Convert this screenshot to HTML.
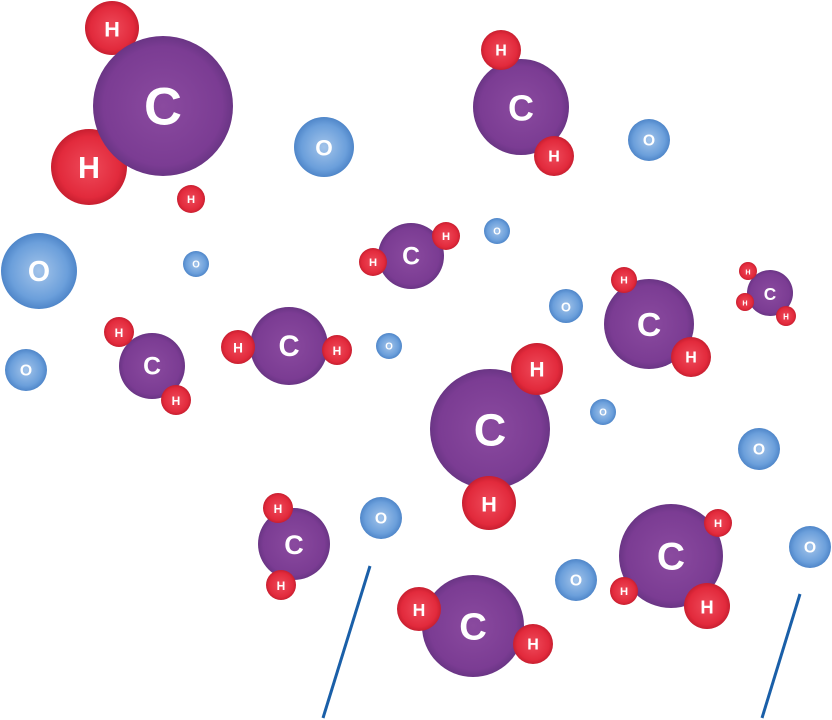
<!DOCTYPE html>
<html><head><meta charset="utf-8"><style>
html,body{margin:0;padding:0;background:#fff;}
svg{display:block;}
text{font-family:"Liberation Sans",sans-serif;fill:#fff;text-anchor:middle;dominant-baseline:central;font-weight:bold;}
</style></head><body>
<svg width="832" height="720" viewBox="0 0 832 720" xmlns="http://www.w3.org/2000/svg">
<defs>
<radialGradient id="gc" cx="50%" cy="50%" r="50%"><stop offset="0" stop-color="#8a4a9f"/><stop offset="0.85" stop-color="#7b3c93"/><stop offset="1" stop-color="#6a3585"/></radialGradient>
<radialGradient id="gh" cx="50%" cy="50%" r="50%"><stop offset="0" stop-color="#ee4a5a"/><stop offset="0.8" stop-color="#e22a3c"/><stop offset="1" stop-color="#c81f30"/></radialGradient>
<radialGradient id="go" cx="50%" cy="50%" r="50%"><stop offset="0" stop-color="#a3c4ea"/><stop offset="0.75" stop-color="#6b9fdb"/><stop offset="1" stop-color="#4f86c9"/></radialGradient>
</defs>
<g id="a"></g>
<line x1="370" y1="566" x2="323" y2="718" stroke="#1a5fa8" stroke-width="3"/>
<line x1="800" y1="594" x2="762" y2="718" stroke="#1a5fa8" stroke-width="3"/>
<script>
var L=[
['H',112,28,27],['H',89,167,38],['C',163,106,70],['H',191,199,14],
['O',324,147,30],['O',39,271,38],['O',196,264,13],['O',26,370,21],
['C',152,366,33],['H',119,332,15],['H',176,400,15],
['C',289,346,39],['H',238,347,17],['H',337,350,15],
['O',389,346,13],
['C',411,256,33],['H',373,262,14],['H',446,236,14],
['O',497,231,13],
['C',521,107,48],['H',501,50,20],['H',554,156,20],
['O',649,140,21],['O',566,306,17],
['C',649,324,45],['H',624,280,13],['H',691,357,20],
['C',770,293,23],['H',748,271,9],['H',745,302,9],['H',786,316,10],
['C',490,429,60],['H',537,369,26],['H',489,503,27],
['O',603,412,13],['O',759,449,21],
['C',294,544,36],['H',278,508,15],['H',281,585,15],
['O',381,518,21],
['C',473,626,51],['H',419,609,22],['H',533,644,20],
['O',576,580,21],
['C',671,556,52],['H',718,523,14],['H',624,591,14],['H',707,606,23],
['O',810,547,21]];
var ns="http://www.w3.org/2000/svg",g=document.getElementById('a');
L.forEach(function(e){var c=document.createElementNS(ns,'circle');c.setAttribute('cx',e[1]);c.setAttribute('cy',e[2]);c.setAttribute('r',e[3]);c.setAttribute('fill','url(#g'+e[0].toLowerCase()+')');g.appendChild(c);
var t=document.createElementNS(ns,'text');t.setAttribute('x',e[1]);t.setAttribute('y',e[2]+1);var fs=e[0]=='C'?e[3]*0.75:(e[0]=='H'?e[3]*0.8:e[3]*0.75);t.setAttribute('font-size',fs);t.textContent=e[0];g.appendChild(t);});
</script>
</svg>
</body></html>
